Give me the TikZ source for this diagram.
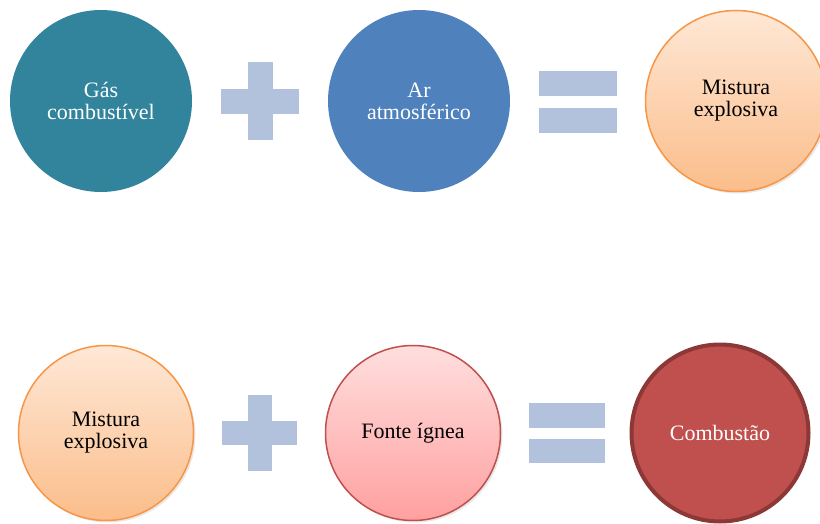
\documentclass[tikz,border=0pt]{standalone}
\usepackage{fontspec}
\setmainfont{Liberation Serif}
\usetikzlibrary{shadows}

\definecolor{teal1}{RGB}{49,132,155}
\definecolor{blue1}{RGB}{79,129,189}
\definecolor{sign}{RGB}{178,194,220}
\definecolor{orangeline}{RGB}{247,150,70}
\definecolor{orangetop}{RGB}{254,232,214}
\definecolor{orangebot}{RGB}{251,189,138}
\definecolor{redline}{RGB}{192,80,77}
\definecolor{pinktop}{RGB}{255,222,222}
\definecolor{pinkbot}{RGB}{255,160,160}
\definecolor{darkred}{RGB}{140,56,54}

\tikzset{
  signbar/.style={fill=sign},
  soft/.style={drop shadow={opacity=0.18,shadow xshift=2pt,shadow yshift=-2pt}},
}

\begin{document}
\begin{tikzpicture}[x=1pt,y=-1pt]
      \useasboundingbox (0,0) rectangle (820,524);

      \begin{scope}[every node/.style={circle, inner sep=0pt, align=center,
          font=\fontsize{22}{22}\selectfont}]
        \node[fill=teal1, text=white, minimum size=182pt] (gas) at (101,101) {Gás\\combustível};
        \node[fill=blue1, text=white, minimum size=182pt] (ar)  at (419,101) {Ar\\atmosférico};
        \node[soft, draw=orangeline, line width=1.5pt, top color=orangetop, bottom color=orangebot,
              minimum size=181pt] (mist1) at (736,101) {Mistura\\explosiva};
        \node[soft, draw=orangeline, line width=1.5pt, top color=orangetop, bottom color=orangebot,
              minimum size=175pt] (mist2) at (106,433) {Mistura\\explosiva};
        \node[soft, draw=redline, line width=1.5pt, top color=pinktop, bottom color=pinkbot,
              minimum size=175pt] (fonte) at (413,433) {Fonte ígnea};
        \node[draw=darkred, line width=4pt, fill=redline, text=white,
              minimum size=177pt] (comb)  at (720,433) {Combustão};
      \end{scope}

      % plus and equals signs
      \fill[signbar] (248,62) rectangle (273,140);
      \fill[signbar] (221,89) rectangle (299,114);
      \fill[signbar] (539,71) rectangle (617,96);
      \fill[signbar] (539,108) rectangle (617,133);

      \fill[signbar] (248,395) rectangle (272,471);
      \fill[signbar] (222,421) rectangle (297,445);
      \fill[signbar] (529,403) rectangle (605,428);
      \fill[signbar] (529,439) rectangle (605,463);

    \end{tikzpicture}
\end{document}
